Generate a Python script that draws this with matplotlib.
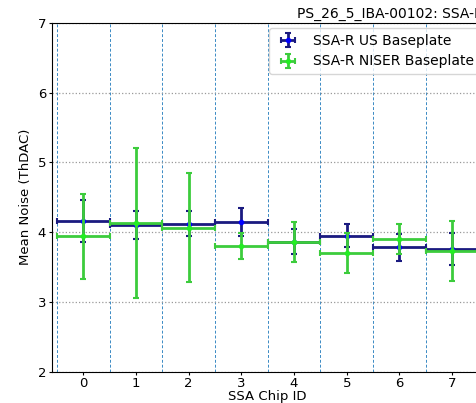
import matplotlib
matplotlib.use('Agg')
import matplotlib.pyplot as plt
import numpy as np

chips = [0, 1, 2, 3, 4, 5, 6, 7]

# SSA-R US baseplate
us_mean = [4.16, 4.10, 4.12, 4.14, 3.86, 3.95, 3.78, 3.76]
us_err = [0.30, 0.20, 0.18, 0.20, 0.18, 0.16, 0.19, 0.23]

# SSA-R NISER baseplate
niser_mean = [3.94, 4.13, 4.06, 3.80, 3.86, 3.70, 3.90, 3.73]
niser_err = [0.61, 1.08, 0.78, 0.19, 0.29, 0.28, 0.21, 0.43]

title = 'PS_26_5_IBA-00102: SSA-R'

fig = plt.figure(figsize=(4.77, 4.03), dpi=100)
# the original is a crop, the axes run past the right edge
ax = fig.add_axes([51.7/477, 1 - 371.7/403, 432/477, (371.7 - 22.7)/403])

x = np.array(chips)
ax.errorbar(x, us_mean, yerr=us_err, xerr=0.5, fmt='.', color='#1a1a80',
            mfc='blue', mec='blue', ms=6, elinewidth=2, capsize=2,
            capthick=1.5, label='SSA-R US Baseplate', zorder=3)
ax.errorbar(x, niser_mean, yerr=niser_err, xerr=0.5, fmt='.', color='#3ccc3c',
            mfc='#22ee22', mec='#22ee22', ms=6, elinewidth=2, capsize=2,
            capthick=1.5, label='SSA-R NISER Baseplate', zorder=4)

ax.set_xlim(-0.6, 7.6)
ax.set_ylim(2, 7)
ax.set_xticks(chips)
ax.set_xticks(np.arange(-0.5, 8, 1), minor=True)
ax.set_yticks([2, 3, 4, 5, 6, 7])
ax.tick_params(axis='x', which='minor', length=0)
ax.tick_params(which='major', labelsize=9.5, length=2.5, pad=1.5)

ax.grid(axis='x', which='minor', color='#3a8ac4', linestyle='--', linewidth=0.7, dashes=(3, 2))
ax.grid(axis='y', which='major', color='#999999', linestyle=':', linewidth=0.9)
ax.set_axisbelow(True)

ax.set_xlabel('SSA Chip ID', fontsize=9.5, labelpad=0)
ax.set_ylabel('Mean Noise (ThDAC)', fontsize=9.5, labelpad=4)

fig.text(297/477, 1 - 14/403, title, fontsize=10, ha='left', va='center')

ax.legend(loc='upper left', bbox_to_anchor=(269/477, 1 - 28/403),
          bbox_transform=fig.transFigure, fontsize=10, framealpha=0.8,
          borderaxespad=0)

fig.savefig('out.png', dpi=100)
